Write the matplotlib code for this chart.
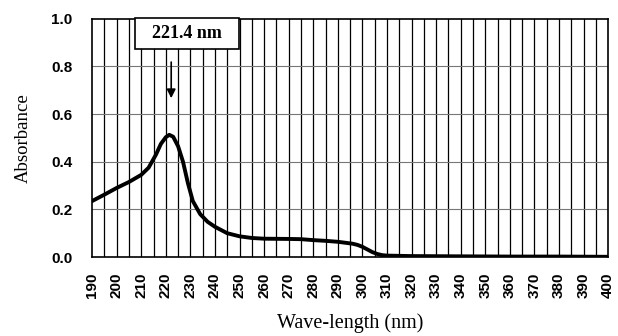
import numpy as np
import matplotlib.pyplot as plt
from matplotlib.patches import Rectangle

# Absorbance spectrum, values
wavelength = [190, 195, 200, 205, 210, 213, 216, 218, 220, 221.4, 223, 225, 227, 229, 231,
              234, 237, 240, 245, 250, 255, 260, 270, 275, 280, 285, 290, 293, 296,
              298, 300, 302, 304, 306, 308, 310, 320, 340, 360, 380, 400]
absorbance = [0.235, 0.262, 0.29, 0.315, 0.345, 0.375, 0.43, 0.475, 0.503, 0.513, 0.505, 0.465,
              0.40, 0.31, 0.235, 0.18, 0.148, 0.127, 0.10, 0.087, 0.08, 0.077, 0.076, 0.075,
              0.071, 0.068, 0.064, 0.060, 0.056, 0.051, 0.043, 0.032, 0.021, 0.013, 0.008,
              0.006, 0.004, 0.003, 0.002, 0.002, 0.001]
xticks = np.arange(190, 401, 10)
yticks = [0.0, 0.2, 0.4, 0.6, 0.8, 1.0]

fig = plt.figure(figsize=(6.18, 3.36), dpi=100)
ax = fig.add_axes([0.149, 0.235, 0.835, 0.709])

# grid: black vertical lines every 5 nm, grey horizontal lines
for xv in np.arange(195, 400, 5):
    ax.axvline(xv, color='black', lw=0.9, zorder=1)
for yv in yticks[1:-1]:
    ax.axhline(yv, color='#777777', lw=0.8, zorder=1)

ax.plot(wavelength, absorbance, color='black', lw=2.8, zorder=3,
        solid_joinstyle='round', solid_capstyle='round')

ax.set_xlim(190, 400)
ax.set_ylim(0, 1.0)
ax.set_xticks(xticks)
ax.set_xticklabels([str(t) for t in xticks], rotation=90, fontsize=11,
                   fontweight='bold', family='Liberation Sans')
ax.set_yticks(yticks)
ax.set_yticklabels(['%.1f' % t for t in yticks], fontsize=11,
                   fontweight='bold', family='Liberation Sans')
ax.tick_params(axis='y', length=0, pad=14)
ax.tick_params(axis='x', length=0, pad=11)
for s in ax.spines.values():
    s.set_linewidth(1.2)

ax.set_ylabel('Absorbance', family='Liberation Serif', fontsize=13.5, labelpad=14)
ax.set_xlabel('Wave-length (nm)', family='Liberation Serif', fontsize=14.5, labelpad=11)

# peak label box and arrow
ax.add_patch(Rectangle((207.5, 0.874), 42.3, 0.13, fc='white', ec='black', lw=1.2,
                       zorder=5, clip_on=False))
ax.text(228.7, 0.938, '221.4 nm', family='Liberation Serif', fontweight='bold',
        fontsize=13, ha='center', va='center', zorder=6)
ax.annotate('', xy=(222.2, 0.655), xytext=(222.2, 0.83),
            arrowprops=dict(arrowstyle='-|>', color='black', lw=1.2, mutation_scale=13),
            zorder=5)

fig.savefig('out.png', dpi=100)
